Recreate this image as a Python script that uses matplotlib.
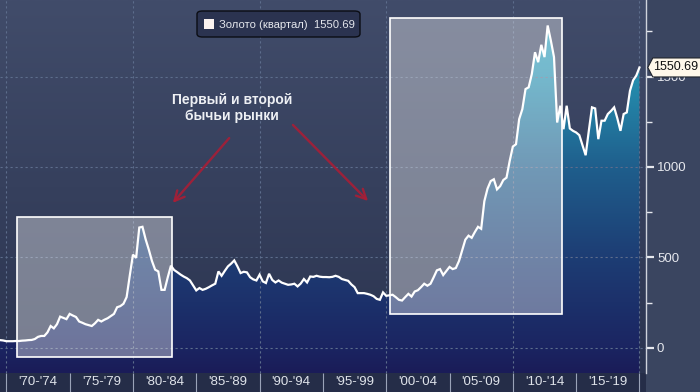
import numpy as np
import pandas as pd
import matplotlib
matplotlib.use("Agg")
import matplotlib.pyplot as plt
from matplotlib import font_manager
from matplotlib.colors import LinearSegmentedColormap
from matplotlib.patches import Rectangle, Polygon, FancyBboxPatch
from matplotlib.transforms import IdentityTransform

# quarterly gold price, USD/oz, from 1969Q2
first_quarter = "1969Q2"
gold = [
    42, 40, 36,                 # 1969
    36, 36, 37, 37,             # 1970
    39, 40, 42, 43,             # 1971
    48, 60, 65, 65,             # 1972
    85, 120, 107, 130,          # 1973
    172, 165, 158, 187,         # 1974
    178, 170, 145, 138,         # 1975
    130, 125, 120, 135,         # 1976
    154, 145, 155, 163,         # 1977
    175, 187, 224, 230,         # 1978
    243, 280, 400, 515,         # 1979
    497, 665, 669, 600,         # 1980
    543, 480, 432, 422,         # 1981
    320, 320, 390, 454,         # 1982
    430, 418, 405, 394,         # 1983
    385, 372, 345, 317,         # 1984
    330, 320, 326, 335,         # 1985
    345, 354, 422, 398,         # 1986
    425, 450, 465, 483,         # 1987
    450, 413, 420, 417,         # 1988
    390, 378, 372, 404,         # 1989
    367, 358, 409, 375,         # 1990
    361, 372, 360, 354,         # 1991
    348, 350, 354, 339,         # 1992
    355, 380, 361, 394,         # 1993
    392, 398, 393, 391,         # 1994
    391, 390, 392, 398,         # 1995
    392, 380, 375, 370,         # 1996
    350, 335, 302, 302,         # 1997
    302, 298, 293, 285,         # 1998
    270, 265, 306, 287,         # 1999
    290, 293, 280, 265,         # 2000
    261, 280, 298, 283,         # 2001
    311, 318, 335, 354,         # 2002
    343, 354, 390, 428,         # 2003
    435, 402, 425, 447,         # 2004
    435, 441, 480, 540,         # 2005
    598, 620, 608, 640,         # 2006
    669, 658, 811, 880,         # 2007
    922, 932, 876, 894,         # 2008
    928, 941, 1033, 1113,       # 2009
    1126, 1265, 1320, 1431,     # 2010
    1441, 1515, 1635, 1580,     # 2011
    1676, 1608, 1783, 1700,     # 2012
    1608, 1246, 1339, 1209,     # 2013
    1339, 1213, 1200, 1191,     # 2014
    1176, 1120, 1065, 1200,     # 2015
    1330, 1324, 1154, 1256,     # 2016
    1256, 1293, 1310, 1330,     # 2017
    1270, 1200, 1293, 1302,     # 2018
    1422, 1480, 1506, 1550.69,  # 2019
]

period_labels = ["'70-'74", "'75-'79", "'80-'84", "'85-'89", "'90-'94",
                 "'95-'99", "'00-'04", "'05-'09", "'10-'14", "'15-'19"]
period_starts = [1970, 1975, 1980, 1985, 1990, 1995, 2000, 2005, 2010, 2015]

# the two bull markets that are highlighted: (start, end, low, high)
bull_markets = [(1970.85, 1983.05, -50, 724),
                (2000.3, 2013.9, 187, 1822)]

series_name = "Золото (квартал)"

# narrow font for the axis labels if it is there
installed = {f.name for f in font_manager.fontManager.ttflist}
if "Liberation Sans Narrow" in installed:
    NARROW, NSIZE = "Liberation Sans Narrow", 10.5
else:
    NARROW, NSIZE = "Liberation Sans", 9.5
plt.rcParams["font.family"] = [NARROW, "DejaVu Sans"]

# x = decimal year at the end of each quarter
quarters = pd.period_range(first_quarter, periods=len(gold), freq="Q")
x = np.array([q.year + q.quarter / 4 for q in quarters])
y = np.array(gold, dtype=float)

XMIN, XMAX = 1969.5, 2020.5
YMIN, YMAX = -140, 1924

fig = plt.figure(figsize=(7, 3.92), dpi=100, facecolor="#3a4560")

# band under the plot for the period labels (drawn first, under the axes)
fig.patches.append(Rectangle((0, 0), 645.8 / 700, 19 / 392, transform=fig.transFigure,
                             facecolor="#252d48", edgecolor="none", zorder=-5))

ax = fig.add_axes([0, 19 / 392, 645.8 / 700, 373 / 392])
ax.set_xlim(XMIN, XMAX)
ax.set_ylim(YMIN, YMAX)

# background gradient
bg = LinearSegmentedColormap.from_list("bg", ["#2b3450", "#36405d", "#414c6a"])
ax.imshow(np.linspace(0, 1, 256).reshape(-1, 1), extent=[XMIN, XMAX, YMIN, YMAX],
          origin="lower", aspect="auto", cmap=bg, zorder=0)

# area fill with a vertical gradient, clipped to the area under the line
fill_cmap = LinearSegmentedColormap.from_list(
    "fill", [(0.0, "#1a1c58"), (0.07, "#1b2562"), (0.31, "#1d3d74"),
             (0.55, "#1f5e8c"), (0.80, "#2590b0"), (1.0, "#30a8c4")])
area = Polygon(np.column_stack([np.r_[x[0], x, x[-1]], np.r_[YMIN, y, YMIN]]),
               closed=True, facecolor="none", edgecolor="none", transform=ax.transData)
ax.add_patch(area)
grad = ax.imshow(np.linspace(0, 1, 256).reshape(-1, 1), extent=[XMIN, XMAX, YMIN, YMAX],
                 origin="lower", aspect="auto", cmap=fill_cmap, zorder=1)
grad.set_clip_path(area)

# grid
for gy in [0, 500, 1000, 1500]:
    ax.axhline(gy, color="#5d6d8c", lw=0.8, ls=(0, (2, 2.5)), zorder=2)
for gx in range(1970, 2021, 10):
    ax.axvline(gx, color="#5d6d8c", lw=0.8, ls=(0, (2, 2.5)), zorder=2)

# highlight boxes
for x0, x1, y0, y1 in bull_markets:
    ax.add_patch(Rectangle((x0, y0), x1 - x0, y1 - y0, facecolor="white", alpha=0.37,
                           edgecolor="none", zorder=3))
    ax.add_patch(Rectangle((x0, y0), x1 - x0, y1 - y0, facecolor="none",
                           edgecolor="white", lw=1.2, zorder=3))

ax.plot(x, y, color="white", lw=1.6, zorder=4, solid_joinstyle="miter")

# axes styling
for side in ["top", "left", "bottom"]:
    ax.spines[side].set_visible(False)
ax.spines["right"].set_color("#cfd3dc")
ax.spines["right"].set_linewidth(1.0)
ax.yaxis.tick_right()
ax.set_yticks([0, 500, 1000, 1500])
ax.set_yticks([250, 750, 1250, 1750], minor=True)
ax.tick_params(axis="y", which="major", length=6, width=1.6, colors="#e6e8ee",
               labelsize=NSIZE, pad=2)
ax.tick_params(axis="y", which="minor", length=4, width=1.0, colors="#e6e8ee")

ax.set_xticks(period_starts + [2020])
ax.set_xticklabels([])
ax.set_xticks([s + 2.5 for s in period_starts], minor=True)
ax.set_xticklabels(period_labels, minor=True)
ax.tick_params(axis="x", which="major", length=14, width=0.8, colors="#9aa3b8", direction="out")
ax.tick_params(axis="x", which="minor", length=0, labelsize=NSIZE,
               labelcolor="#dfe3ea", pad=2)

# legend box
fig.patches.append(FancyBboxPatch((197 / 700, 1 - 37 / 392), 163 / 700, 26 / 392,
                                  boxstyle="round,pad=0,rounding_size=0.008",
                                  transform=fig.transFigure, facecolor="#2b3350",
                                  edgecolor="#0b0d14", lw=1.0, zorder=5))
fig.patches.append(Rectangle((204 / 700, 1 - 29 / 392), 10 / 700, 10 / 392,
                             transform=fig.transFigure, facecolor="#fbf3f0",
                             edgecolor="none", zorder=6))
fig.text(219 / 700, 1 - 24.5 / 392, f"{series_name}  {gold[-1]:.2f}", color="#e4e6ec",
         fontsize=8.1, va="center", ha="left", family=["Liberation Sans", "DejaVu Sans"],
         zorder=7)

# annotation with the two arrows
fig.text(232 / 700, 1 - 108 / 392, "Первый и второй\nбычьи рынки", color="#eef0f4",
         fontsize=10, fontweight="bold", ha="center", va="center", linespacing=1.25,
         family=["Liberation Sans", "DejaVu Sans"])
arrow_style = dict(arrowstyle="->,head_length=0.7,head_width=0.35", color="#a81e36",
                   lw=1.7, alpha=0.9)
ax.annotate("", xy=(171 / 700, 1 - 205 / 392), xytext=(231 / 700, 1 - 136 / 392),
            xycoords="figure fraction", textcoords="figure fraction", arrowprops=arrow_style)
ax.annotate("", xy=(370 / 700, 1 - 203 / 392), xytext=(291 / 700, 1 - 123 / 392),
            xycoords="figure fraction", textcoords="figure fraction", arrowprops=arrow_style)

# last value tag at the right axis
fig.canvas.draw()
_, py = ax.transData.transform((XMAX, gold[-1]))
px = ax.transAxes.transform((1, 0))[0] + 2
tag = Polygon([(px, py), (px + 5, py + 9.5), (px + 60, py + 9.5),
               (px + 60, py - 9.5), (px + 5, py - 9.5)], closed=True,
              transform=IdentityTransform(), facecolor="#fff8ea", edgecolor="#20242c",
              lw=0.8, zorder=10)
fig.patches.append(tag)
fig.text((px + 5) / 700, py / 392, f"{gold[-1]:.2f}", color="#111111", fontsize=9,
         ha="left", va="center", zorder=11)

fig.savefig("out.png", dpi=100, facecolor=fig.get_facecolor())
